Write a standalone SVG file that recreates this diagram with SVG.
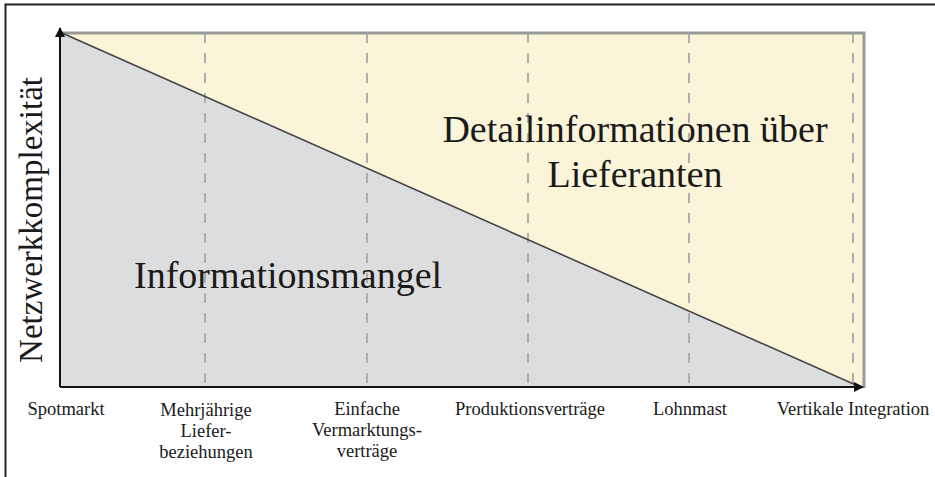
<svg xmlns="http://www.w3.org/2000/svg" width="935" height="477" viewBox="0 0 935 477">
  <defs>
    <marker id="arrow" viewBox="0 0 10 10" refX="9" refY="5" markerWidth="10" markerHeight="10" markerUnits="userSpaceOnUse" orient="auto">
      <path d="M0,0 L10,5 L0,10 z" fill="#111"/>
    </marker>
    <style>
      .lbl { font-family: "Liberation Serif", "Times New Roman", serif; font-size: 18.5px; fill: #1a1a1a; text-anchor: middle; }
      .big { font-family: "Liberation Serif", "Times New Roman", serif; font-size: 38px; fill: #1a1a1a; }
      .grid { stroke: #a8a8a8; stroke-width: 1.8; stroke-dasharray: 10 10; fill: none; }
      .axis { stroke: #111; stroke-width: 2; fill: none; marker-end: url(#arrow); }
    </style>
  </defs>

  <rect width="935" height="477" fill="#ffffff"/>
  <!-- frame -->
  <rect x="5.5" y="4.5" width="940" height="480" fill="none" stroke="#222" stroke-width="2"/>

  <!-- areas -->
  <g id="area-detail">
    <polygon points="61,33 864,33 864,387 858,387" fill="#faf4d9"/>
  </g>
  <g id="area-mangel">
    <polygon points="61,33 858,387 61,387" fill="#dcdddf"/>
  </g>
  <polyline points="62,33 864,33 864,388" fill="none" stroke="#999" stroke-width="3"/>

  <g id="connectors">
    <line class="grid" x1="205" y1="33" x2="205" y2="387"/>
    <line class="grid" x1="367" y1="33" x2="367" y2="387"/>
    <line class="grid" x1="528" y1="33" x2="528" y2="387"/>
    <line class="grid" x1="689" y1="33" x2="689" y2="387"/>
    <line class="grid" x1="853" y1="33" x2="853" y2="387"/>
    <line x1="62" y1="33" x2="858" y2="386" stroke="#444" stroke-width="1.6"/>
    <line class="axis" x1="60" y1="387" x2="60" y2="28"/>
    <line class="axis" x1="60" y1="387" x2="863" y2="387"/>
  </g>

  <g id="label-y">
    <text class="big" style="font-size:33px" text-anchor="middle" transform="translate(42,220) rotate(-90)">Netzwerkkomplexität</text>
  </g>
  <g id="label-mangel">
    <text class="big" x="134" y="288">Informationsmangel</text>
  </g>
  <g id="label-detail">
    <text class="big" x="635" y="142" text-anchor="middle">Detailinformationen über</text>
    <text class="big" x="635" y="187" text-anchor="middle">Lieferanten</text>
  </g>

  <g id="spotmarkt"><text class="lbl" x="66" y="415">Spotmarkt</text></g>
  <g id="mehrjaehrige">
    <text class="lbl" x="206" y="416">Mehrjährige</text>
    <text class="lbl" x="206" y="437">Liefer-</text>
    <text class="lbl" x="206" y="458">beziehungen</text>
  </g>
  <g id="einfache">
    <text class="lbl" x="367" y="415">Einfache</text>
    <text class="lbl" x="367" y="436">Vermarktungs-</text>
    <text class="lbl" x="367" y="457">verträge</text>
  </g>
  <g id="produktion"><text class="lbl" x="530" y="415">Produktionsverträge</text></g>
  <g id="lohnmast"><text class="lbl" x="690" y="415">Lohnmast</text></g>
  <g id="vertikale"><text class="lbl" x="853" y="415">Vertikale Integration</text></g>
</svg>
